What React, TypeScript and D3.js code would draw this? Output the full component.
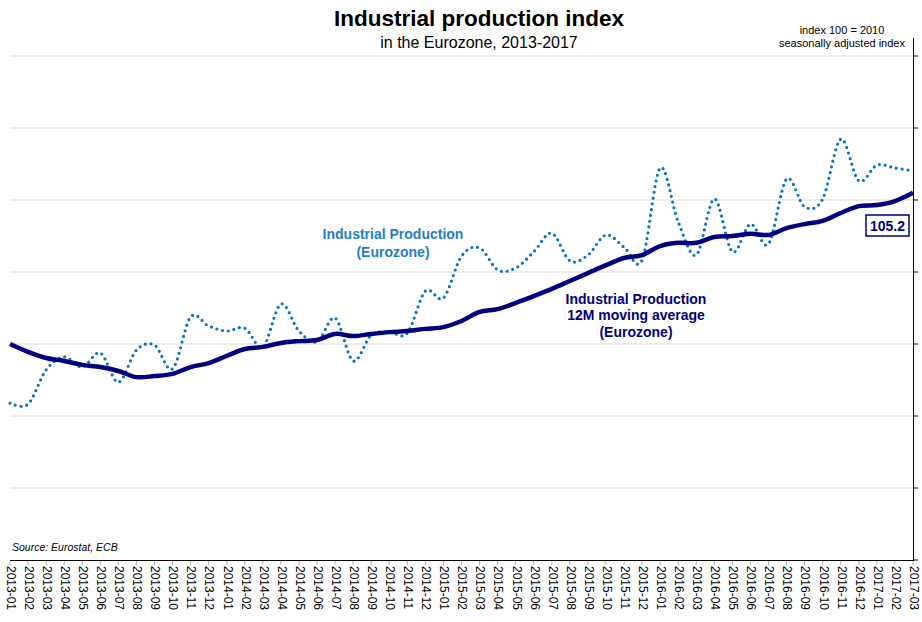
import React from "react";
import * as d3 from "d3";

const months = [
  "2013-01","2013-02","2013-03","2013-04","2013-05","2013-06","2013-07","2013-08","2013-09","2013-10","2013-11","2013-12",
  "2014-01","2014-02","2014-03","2014-04","2014-05","2014-06","2014-07","2014-08","2014-09","2014-10","2014-11","2014-12",
  "2015-01","2015-02","2015-03","2015-04","2015-05","2015-06","2015-07","2015-08","2015-09","2015-10","2015-11","2015-12",
  "2016-01","2016-02","2016-03","2016-04","2016-05","2016-06","2016-07","2016-08","2016-09","2016-10","2016-11","2016-12",
  "2017-01","2017-02","2017-03",
];

const industrialProduction = [
  99.36, 99.33, 100.28, 100.64, 100.36, 100.75, 99.94, 100.83, 100.97, 100.31,
  101.75, 101.5, 101.36, 101.44, 100.92, 102.11, 101.36, 101.06, 101.72, 100.53,
  101.25, 101.33, 101.3, 102.47, 102.28, 103.44, 103.67, 103.06, 103.11, 103.56,
  104.08, 103.31, 103.47, 104.03, 103.69, 103.33, 105.89, 104.39, 103.47, 105.03,
  103.56, 104.33, 103.78, 105.58, 104.81, 105.03, 106.69, 105.53, 105.97, 105.89, 105.81,
];

const movingAverage12M = [
  101.0, 100.78, 100.61, 100.53, 100.42, 100.36, 100.25, 100.08, 100.11, 100.17,
  100.36, 100.47, 100.67, 100.86, 100.92, 101.03, 101.08, 101.11, 101.28, 101.22,
  101.28, 101.33, 101.36, 101.42, 101.47, 101.64, 101.89, 101.97, 102.14, 102.33,
  102.53, 102.75, 102.97, 103.19, 103.39, 103.47, 103.72, 103.81, 103.81, 103.97,
  104.0, 104.06, 104.03, 104.22, 104.33, 104.42, 104.64, 104.83, 104.86, 104.97, 105.2,
];

const yTicks = [95, 97, 99, 101, 103, 105, 107, 109];
const lastLabel = "105.2";

const NAVY = "#000080";
const BLUE = "#0a72c2";
const BLUE_TEXT = "#1f80c8";
const FONT = "'Liberation Sans', Arial, sans-serif";

export default function App() {
  const W = 922, H = 622;
  const x = d3.scalePoint<string>().domain(months).range([10, 913]);
  const y = d3.scaleLinear().domain([95, 109.5]).range([560, 38]);

  const line = d3
    .line<number>()
    .x((_, i) => x(months[i]) as number)
    .y((d) => y(d))
    .curve(d3.curveCardinal.tension(0));

  const lastX = x(months[months.length - 1]) as number;

  return (
    <svg
      width={W}
      height={H}
      style={{ position: "absolute", left: 0, top: 0, background: "#fff" }}
      fontFamily={FONT}
    >
      <rect width={W} height={H} fill="#fff" />
      {/* gridlines */}
      {yTicks.filter((t) => t !== 95).map((t) => (
        <line key={t} x1={10} x2={913} y1={y(t)} y2={y(t)} stroke="#d9d9d9" strokeWidth={1} />
      ))}
      {/* right axis */}
      <line x1={913.5} x2={913.5} y1={y(109.5)} y2={560} stroke="#000" strokeWidth={1} />
      {yTicks.map((t) => (
        <line key={"rt" + t} x1={913} x2={918} y1={y(t)} y2={y(t)} stroke="#000" strokeWidth={1} />
      ))}
      {/* bottom axis */}
      <line x1={10} x2={914} y1={560.5} y2={560.5} stroke="#000" strokeWidth={1.2} />
      {months.map((m) => (
        <line key={"bt" + m} x1={x(m)} x2={x(m)} y1={561} y2={565} stroke="#b0b0b0" strokeWidth={1} />
      ))}
      {months.map((m) => (
        <text
          key={"lb" + m}
          transform={`translate(${x(m)},566) rotate(90)`}
          fontSize={12}
          dominantBaseline="middle"
          textAnchor="start"
          fill="#000"
        >
          {m}
        </text>
      ))}

      {/* series */}
      <path
        d={line(industrialProduction) || ""}
        fill="none"
        stroke={BLUE}
        strokeWidth={3.2}
        strokeLinecap="round"
        strokeDasharray="0 5.8"
      />
      <path
        d={line(movingAverage12M) || ""}
        fill="none"
        stroke={NAVY}
        strokeWidth={4.5}
        strokeLinejoin="round"
      />

      {/* titles */}
      <text x={479} y={26} textAnchor="middle" fontSize={22.5} fontWeight="bold" fill="#000">
        Industrial production index
      </text>
      <text x={479} y={48} textAnchor="middle" fontSize={16} fill="#000">
        in the Eurozone, 2013-2017
      </text>
      <text x={842} y={34} textAnchor="middle" fontSize={11} fill="#000">
        index 100 = 2010
      </text>
      <text x={842} y={47} textAnchor="middle" fontSize={11} fill="#000">
        seasonally adjusted index
      </text>

      {/* annotations */}
      <text x={393} y={239} textAnchor="middle" fontSize={14} fontWeight="bold" fill={BLUE_TEXT}>
        Industrial Production
      </text>
      <text x={393} y={257} textAnchor="middle" fontSize={14} fontWeight="bold" fill={BLUE_TEXT}>
        (Eurozone)
      </text>
      <text x={636} y={304} textAnchor="middle" fontSize={14} fontWeight="bold" fill={NAVY}>
        Industrial Production
      </text>
      <text x={636} y={320} textAnchor="middle" fontSize={14} fontWeight="bold" fill={NAVY}>
        12M moving average
      </text>
      <text x={636} y={337} textAnchor="middle" fontSize={14} fontWeight="bold" fill={NAVY}>
        (Eurozone)
      </text>

      {/* last value label */}
      <rect x={lastX - 47} y={215} width={43} height={21} fill="#fff" stroke={NAVY} strokeWidth={1.5} />
      <text x={lastX - 25.5} y={231} textAnchor="middle" fontSize={14} fontWeight="bold" fill={NAVY}>
        {lastLabel}
      </text>

      <text x={12} y={551} fontSize={10.5} fontStyle="italic" fill="#000">
        Source: Eurostat, ECB
      </text>
    </svg>
  );
}
